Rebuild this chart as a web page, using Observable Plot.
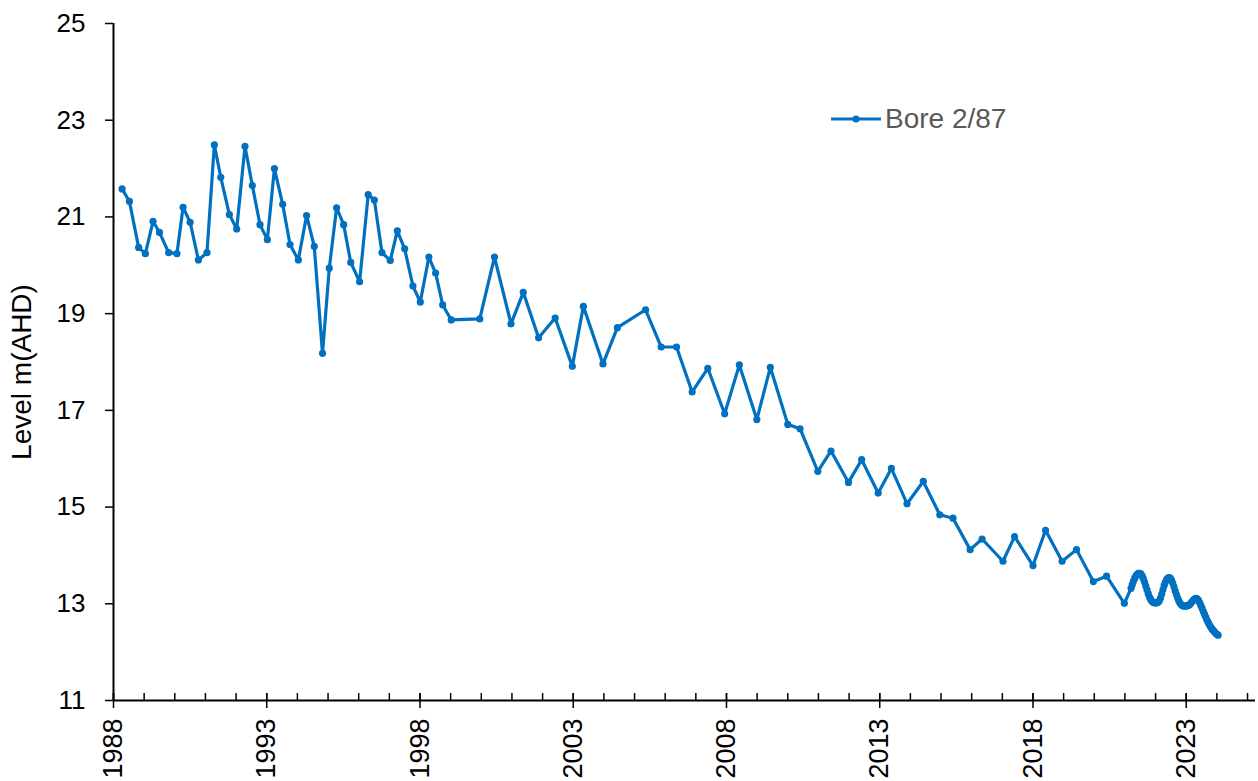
<!DOCTYPE html>
<html>
<head>
<meta charset="utf-8">
<script src="https://cdn.jsdelivr.net/npm/d3@7"></script>
<script src="https://cdn.jsdelivr.net/npm/@observablehq/plot@0.6"></script>
<style>
  html, body { margin: 0; padding: 0; background: #fff; }
  #wrap { position: relative; width: 1258px; height: 781px; font-family: "Liberation Sans", Arial, sans-serif; }
  #legend { position: absolute; left: 831px; top: 103px; display: flex; align-items: center; font-size: 28px; color: #595959; }
</style>
</head>
<body>
<div id="wrap">
  <div id="chart"></div>
  <div id="legend">
    <svg width="52" height="10" style="margin-right:2px"><line x1="0" y1="5" x2="50" y2="5" stroke="#0070C0" stroke-width="3.2"/><circle cx="25" cy="5" r="3.5" fill="#0070C0"/></svg>
    <span id="legendText"></span>
  </div>
</div>
<script>
const seriesName = "Bore 2/87";
const yTitle = "Level m(AHD)";
const yTicks = [11, 13, 15, 17, 19, 21, 23, 25];
const xMajorTicks = [1988, 1993, 1998, 2003, 2008, 2013, 2018, 2023];
const xMinorTicks = d3.range(1988, 2026);

// Manual readings (decimal year, level)
const manualYears = [
  1988.28, 1988.52, 1988.82, 1989.04, 1989.29, 1989.50, 1989.80, 1990.07, 1990.27, 1990.50,
  1990.77, 1991.05, 1991.29, 1991.50, 1991.78, 1992.02, 1992.29, 1992.53, 1992.78, 1993.02,
  1993.25, 1993.52, 1993.76, 1994.03, 1994.30, 1994.55, 1994.82, 1995.04, 1995.28, 1995.51,
  1995.74, 1996.03, 1996.31, 1996.51, 1996.76, 1997.03, 1997.26, 1997.50, 1997.77, 1998.01,
  1998.29, 1998.51, 1998.74, 1999.02, 1999.95, 2000.43, 2000.97, 2001.37, 2001.87, 2002.41,
  2002.97, 2003.33, 2003.97, 2004.44, 2005.36, 2005.87, 2006.37, 2006.88, 2007.39, 2007.94,
  2008.42, 2008.99, 2009.43, 2010.00, 2010.40, 2010.98, 2011.41, 2011.98, 2012.41, 2012.95,
  2013.38, 2013.89, 2014.42, 2014.96, 2015.39, 2015.95, 2016.34, 2017.02, 2017.40, 2018.00,
  2018.41, 2018.95, 2019.42, 2019.97, 2020.40, 2020.98
];
const manualLevels = [
  21.58, 21.32, 20.37, 20.24, 20.91, 20.68, 20.26, 20.24, 21.20, 20.89,
  20.11, 20.26, 22.49, 21.82, 21.05, 20.75, 22.46, 21.65, 20.84, 20.53,
  22.00, 21.26, 20.43, 20.11, 21.03, 20.39, 18.18, 19.94, 21.19, 20.84,
  20.06, 19.66, 21.46, 21.35, 20.26, 20.10, 20.71, 20.34, 19.57, 19.24,
  20.17, 19.84, 19.18, 18.87, 18.89, 20.17, 18.79, 19.44, 18.50, 18.91,
  17.91, 19.15, 17.96, 18.71, 19.08, 18.31, 18.31, 17.38, 17.87, 16.93,
  17.94, 16.81, 17.89, 16.71, 16.62, 15.74, 16.16, 15.51, 15.98, 15.29,
  15.80, 15.07, 15.53, 14.84, 14.77, 14.12, 14.34, 13.88, 14.39, 13.79,
  14.52, 13.88, 14.12, 13.46, 13.57, 13.01
];

// Logger readings (decimal year, level)
const loggerYears = [
  2021.20, 2021.24, 2021.28, 2021.32, 2021.36, 2021.40, 2021.44, 2021.48, 2021.52, 2021.56,
  2021.60, 2021.64, 2021.68, 2021.72, 2021.76, 2021.80, 2021.84, 2021.88, 2021.92, 2021.96,
  2022.00, 2022.04, 2022.08, 2022.12, 2022.16, 2022.20, 2022.24, 2022.28, 2022.32, 2022.36,
  2022.40, 2022.44, 2022.48, 2022.52, 2022.56, 2022.60, 2022.64, 2022.68, 2022.72, 2022.76,
  2022.80, 2022.84, 2022.88, 2022.92, 2022.96, 2023.00, 2023.04, 2023.08, 2023.12, 2023.16,
  2023.20, 2023.24, 2023.28, 2023.32, 2023.36, 2023.40, 2023.44, 2023.48, 2023.52, 2023.56,
  2023.60, 2023.64, 2023.68, 2023.72, 2023.76, 2023.80, 2023.84, 2023.88, 2023.92, 2023.96,
  2024.00, 2024.04
];
const loggerLevels = [
  13.32, 13.40, 13.47, 13.53, 13.58, 13.61, 13.63, 13.63, 13.62, 13.58,
  13.52, 13.45, 13.37, 13.29, 13.21, 13.14, 13.09, 13.05, 13.03, 13.02,
  13.02, 13.02, 13.03, 13.06, 13.12, 13.20, 13.29, 13.38, 13.45, 13.50,
  13.53, 13.54, 13.53, 13.49, 13.43, 13.35, 13.27, 13.19, 13.12, 13.06,
  13.01, 12.98, 12.96, 12.95, 12.95, 12.95, 12.96, 12.97, 12.99, 13.02,
  13.05, 13.08, 13.10, 13.11, 13.10, 13.07, 13.02, 12.96, 12.90, 12.84,
  12.78, 12.72, 12.66, 12.61, 12.56, 12.52, 12.48, 12.45, 12.42, 12.39,
  12.37, 12.35
];

const data = manualYears.map((t, i) => ({t, v: manualLevels[i]}))
  .concat(loggerYears.map((t, i) => ({t, v: loggerLevels[i]})));

const blue = "#0070C0";
const font = "Liberation Sans, Arial, sans-serif";

const chart = Plot.plot({
  width: 1258,
  height: 781,
  marginLeft: 113,
  marginRight: 3,
  marginTop: 23,
  marginBottom: 81,
  style: {fontFamily: font, background: "#fff", color: "#000"},
  x: {domain: [1988, 2025.26], axis: null, label: null},
  y: {domain: [11, 25], axis: null, label: null},
  marks: [
    // minor x ticks (pointing into the plot)
    Plot.ruleX(xMinorTicks, {x: d => d, y1: 11, y2: 11, insetTop: -7, stroke: "#000", strokeWidth: 1.5}),
    // major x ticks crossing the axis
    Plot.ruleX(xMajorTicks, {x: d => d, y1: 11, y2: 11, insetTop: -7, insetBottom: -8, stroke: "#000", strokeWidth: 1.5}),
    // rotated year labels
    Plot.text(xMajorTicks, {x: d => d, frameAnchor: "bottom", rotate: -90, textAnchor: "end", lineAnchor: "middle",
      dy: 18, fontSize: 27, fill: "#000", text: d => String(d)}),
    Plot.axisY({ticks: yTicks, tickSize: 8, tickPadding: 20, fontSize: 26, fill: "#000", stroke: "#000",
      strokeWidth: 1.5, strokeOpacity: 1, tickFormat: d => String(d), label: null}),
    Plot.ruleY([11], {stroke: "#000", strokeWidth: 2}),
    Plot.ruleX([1988], {stroke: "#000", strokeWidth: 2}),
    Plot.text([yTitle], {frameAnchor: "left", rotate: -90, dx: -91, dy: 10, fontSize: 28, fill: "#000", lineAnchor: "middle", textAnchor: "middle"}),
    Plot.line(data, {x: "t", y: "v", stroke: blue, strokeWidth: 3.2, strokeLinejoin: "round", curve: "linear"}),
    Plot.dot(data, {x: "t", y: "v", r: 3.6, fill: blue, stroke: "none"})
  ]
});
document.getElementById("chart").appendChild(chart);
document.getElementById("legendText").textContent = seriesName;
</script>
</body>
</html>
